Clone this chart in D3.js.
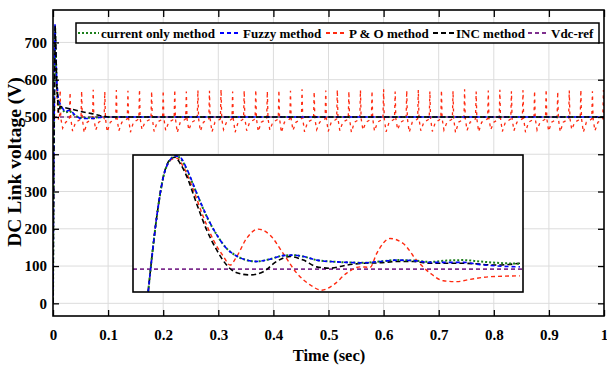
<!DOCTYPE html>
<html><head><meta charset="utf-8">
<script src="https://cdn.jsdelivr.net/npm/d3@7"></script>
<style>
body{margin:0;background:#fff;}
svg{display:block;}
text{font-family:"Liberation Serif","Times New Roman",serif;font-weight:bold;fill:#000;}
</style></head>
<body><svg id="c" width="607" height="367"></svg>
<script>
// ---------- data ----------
const xTicks = [0,0.1,0.2,0.3,0.4,0.5,0.6,0.7,0.8,0.9,1];
const xTickLabels = ["0","0.1","0.2","0.3","0.4","0.5","0.6","0.7","0.8","0.9","1"];
const yTicks = [0,100,200,300,400,500,600,700];
const legendNames = ["current only method","Fuzzy method","P & O method","INC method","Vdc-ref"];
const vdcRef = 500;

// main plot series (time s, voltage V)
const currentT = [0,0.0015,0.0036,0.0067,0.0096,0.0157,0.0217,0.031,0.040,0.049,0.073,0.091,0.3,0.6,1.0];
const currentV = [0,400,745,590,535,522,512,515,503,498,498,500,500,500,500];
const fuzzyT   = [0,0.0015,0.0036,0.0067,0.0096,0.0157,0.0217,0.031,0.040,0.049,0.073,0.091,0.3,0.6,1.0];
const fuzzyV   = [0,400,750,600,545,527,514,519,505,496,496,500,500,500,500];
const incT     = [0,0.0015,0.004,0.007,0.010,0.013,0.030,0.050,0.070,0.085,0.100,0.4,1.0];
const incV     = [0,400,745,580,512,528,522,515,509,504,500,500,500];
const poStartT = [0,0.0015,0.0036,0.007,0.010];
const poStartV = [0,400,748,560,492];
const poSpikeT = [0.013,0.031,0.052,0.073,0.094,0.115,0.136,0.157,0.179,0.200,0.221,0.242,0.263,0.284,0.305,0.326,0.347,0.368,0.389,0.410,0.431,0.452,0.474,0.495,0.516,0.537,0.558,0.579,0.600,0.621,0.642,0.663,0.684,0.705,0.726,0.747,0.768,0.790,0.811,0.832,0.853,0.874,0.895,0.916,0.937,0.958,0.979,0.999];
const poPeak   = [572,566,570,573,568,572,570,574,569,571,573,568,572,570,574,568,571,573,569,572,570,574,568,571,573,569,572,570,574,568,571,573,569,572,570,574,568,571,573,569,572,570,574,568,571,573,569,572];
const poTrough = [470,462,458,465,460,463,459,466,461,464,458,465,462,460,466,459,463,461,465,458,464,460,466,461,463,459,465,462,460,466,459,463,461,465,458,464,460,466,461,463,459,465,462,460,466,459,463,462];

// inset (zoom of the start-up transient)
const inCurT = [0.0039,0.0061,0.0078,0.0095,0.0108,0.0121,0.0138,0.0163,0.0189,0.0215,0.0240,0.0266,0.0291,0.0317,0.0351,0.0385,0.0411,0.0437,0.0471,0.0505,0.0548,0.0591,0.0633,0.0676,0.0719,0.0762,0.0804,0.0847,0.0890,0.0932,0.0992];
const inCurV = [450,617,706,743,752,747,721,669,617,576,546,529,520,517,522,530,531,528,520,517,515,514,517,520,519,516,519,520,517,514,512];
const inFuzT = [0.0039,0.0061,0.0078,0.0095,0.0108,0.0121,0.0138,0.0163,0.0189,0.0215,0.0240,0.0266,0.0291,0.0317,0.0351,0.0385,0.0411,0.0437,0.0471,0.0505,0.0548,0.0591,0.0633,0.0676,0.0719,0.0762,0.0804,0.0847,0.0890,0.0932,0.0992];
const inFuzV = [450,617,706,743,752,749,723,670,618,576,546,529,520,517,522,530,531,528,520,517,515,514,517,520,519,515,515,515,510,507,505];
const inIncT = [0.0039,0.0061,0.0078,0.0099,0.0108,0.0121,0.0138,0.0163,0.0189,0.0215,0.0240,0.0266,0.0300,0.0334,0.0368,0.0403,0.0437,0.0471,0.0505,0.0548,0.0591,0.0633,0.0676,0.0719,0.0762,0.0847,0.0932,0.0992];
const inIncV = [450,617,706,747,749,735,706,646,587,542,509,492,487,494,517,528,520,505,502,509,513,514,517,517,513,513,509,513];
const inPoT  = [0.0039,0.0061,0.0078,0.0099,0.0112,0.0129,0.0155,0.0180,0.0206,0.0232,0.0249,0.0266,0.0291,0.0321,0.0351,0.0385,0.0420,0.0454,0.0484,0.0514,0.0548,0.0582,0.0608,0.0625,0.0659,0.0693,0.0727,0.0762,0.0796,0.0830,0.0864,0.0915,0.0992];
const inPoV  = [450,617,706,744,747,728,676,617,565,528,509,528,568,589,576,535,491,465,453,465,491,505,504,535,568,557,520,491,474,472,477,483,485];

// ---------- drawing ----------
const svg = d3.select("#c");
const L=53, R=604, T=10, B=316;
const x = d3.scaleLinear().domain([0,1]).range([L,R]);
const y = d3.scaleLinear().domain([-34,787]).range([B,T]);

const colors = {cur:"#1b7f1b", fuz:"#0000ff", po:"#ff2a10", inc:"#000000", ref:"#7e2f8e"};
const styles = {
  cur:{c:colors.cur, d:"2,2", w:2},
  fuz:{c:colors.fuz, d:"4,3", w:1.6},
  po:{c:colors.po, d:"4,3", w:1.4},
  inc:{c:colors.inc, d:"5,3", w:1.6},
  ref:{c:colors.ref, d:"4,3", w:1.6}
};
const poMainStyle = {c:colors.po, d:"3,4", w:1.3};

const defs = svg.append("defs");
defs.append("clipPath").attr("id","mainClip").append("rect").attr("x",L).attr("y",T).attr("width",R-L).attr("height",B-T);

// grid
svg.append("g").selectAll("line").data(xTicks.slice(1,-1)).join("line")
  .attr("x1",d=>x(d)).attr("x2",d=>x(d)).attr("y1",T).attr("y2",B)
  .attr("stroke","#dcdcdc").attr("stroke-width",1);
svg.append("g").selectAll("line").data(yTicks).join("line")
  .attr("x1",L).attr("x2",R).attr("y1",d=>y(d)).attr("y2",d=>y(d))
  .attr("stroke","#dcdcdc").attr("stroke-width",1);

const zip = (ts,vs)=>ts.map((t,i)=>[t,vs[i]]);
const poPts = zip(poStartT,poStartV);
poSpikeT.forEach((t,i)=>{
  poPts.push([t-0.0012,495],[t,poPeak[i]],[t+0.0012,496],[t+0.0045,poTrough[i]],[t+0.010,486],[t+0.017,492]);
});

const mainLine = d3.line().x(d=>x(d[0])).y(d=>y(d[1]));
const gm = svg.append("g").attr("clip-path","url(#mainClip)");
function drawLine(g, pts, st, gen){
  g.append("path").datum(pts).attr("d",gen).attr("fill","none")
   .attr("stroke",st.c).attr("stroke-width",st.w).attr("stroke-dasharray",st.d);
}
drawLine(gm, [[0,vdcRef],[1,vdcRef]], styles.ref, mainLine);
drawLine(gm, poPts, poMainStyle, mainLine);
drawLine(gm, zip(currentT,currentV), styles.cur, mainLine);
drawLine(gm, zip(fuzzyT,fuzzyV), styles.fuz, mainLine);
drawLine(gm, zip(incT,incV), styles.inc, mainLine);

// axes
const ax = svg.append("g").attr("transform",`translate(0,${B})`)
  .call(d3.axisBottom(x).tickValues(xTicks).tickFormat((d,i)=>xTickLabels[i]).tickSize(-6).tickPadding(13));
const ay = svg.append("g").attr("transform",`translate(${L},0)`)
  .call(d3.axisLeft(y).tickValues(yTicks).tickSize(-6).tickPadding(6));
const axt = svg.append("g").attr("transform",`translate(0,${T})`)
  .call(d3.axisTop(x).tickValues(xTicks).tickFormat("").tickSize(-7));
const ayr = svg.append("g").attr("transform",`translate(${R},0)`)
  .call(d3.axisRight(y).tickValues(yTicks).tickFormat("").tickSize(-6));
[ax,ay,axt,ayr].forEach(g=>{
  g.select(".domain").remove();
  g.selectAll(".tick line").attr("stroke","#000").attr("stroke-width",1.3);
  g.selectAll(".tick text").style("font-family",'"Liberation Serif","Times New Roman",serif')
    .style("font-weight","bold").style("font-size","15px").attr("fill","#000");
});
svg.append("rect").attr("x",L).attr("y",T).attr("width",R-L).attr("height",B-T)
  .attr("fill","none").attr("stroke","#000").attr("stroke-width",1.6);

// axis titles
svg.append("text").attr("x",329).attr("y",361).attr("text-anchor","middle")
  .style("font-size","16.5px").text("Time (sec)");
svg.append("text").attr("transform","translate(21,162) rotate(-90)").attr("text-anchor","middle")
  .style("font-size","19.5px").text("DC Link voltage (V)");

// inset
const IL=133, IR=523, IT=155, IB=292;
const xi = d3.scaleLinear().domain([0,0.1]).range([IL,IR]);
const yi = d3.scaleLinear().domain([449,754]).range([IB,IT]);
defs.append("clipPath").attr("id","inClip").append("rect").attr("x",IL).attr("y",IT).attr("width",IR-IL).attr("height",IB-IT);
svg.append("rect").attr("x",IL).attr("y",IT).attr("width",IR-IL).attr("height",IB-IT).attr("fill","#fff");
const gi = svg.append("g").attr("clip-path","url(#inClip)");
const inLine = d3.line().curve(d3.curveMonotoneX).x(d=>xi(d[0])).y(d=>yi(d[1]));
drawLine(gi, [[0,vdcRef],[0.1,vdcRef]], styles.ref, inLine);
drawLine(gi, zip(inPoT,inPoV), styles.po, inLine);
drawLine(gi, zip(inIncT,inIncV), styles.inc, inLine);
drawLine(gi, zip(inCurT,inCurV), styles.cur, inLine);
drawLine(gi, zip(inFuzT,inFuzV), styles.fuz, inLine);
svg.append("rect").attr("x",IL).attr("y",IT).attr("width",IR-IL).attr("height",IB-IT)
  .attr("fill","none").attr("stroke","#000").attr("stroke-width",1.6);

// legend
const lg = svg.append("g");
lg.append("rect").attr("x",76).attr("y",23).attr("width",523).attr("height",20)
  .attr("fill","#fff").attr("stroke","#000").attr("stroke-width",1.5);
const legStyles = [styles.cur,styles.fuz,styles.po,styles.inc,styles.ref];
const legX = [78,220,326,433,528];
legendNames.forEach((n,i)=>{
  const st = legStyles[i];
  lg.append("line").attr("x1",legX[i]).attr("x2",legX[i]+21).attr("y1",33).attr("y2",33)
    .attr("stroke",st.c).attr("stroke-width",2).attr("stroke-dasharray",st.d);
  lg.append("text").attr("x",legX[i]+23).attr("y",37.5).style("font-size","13px").text(n);
});
</script></body></html>
